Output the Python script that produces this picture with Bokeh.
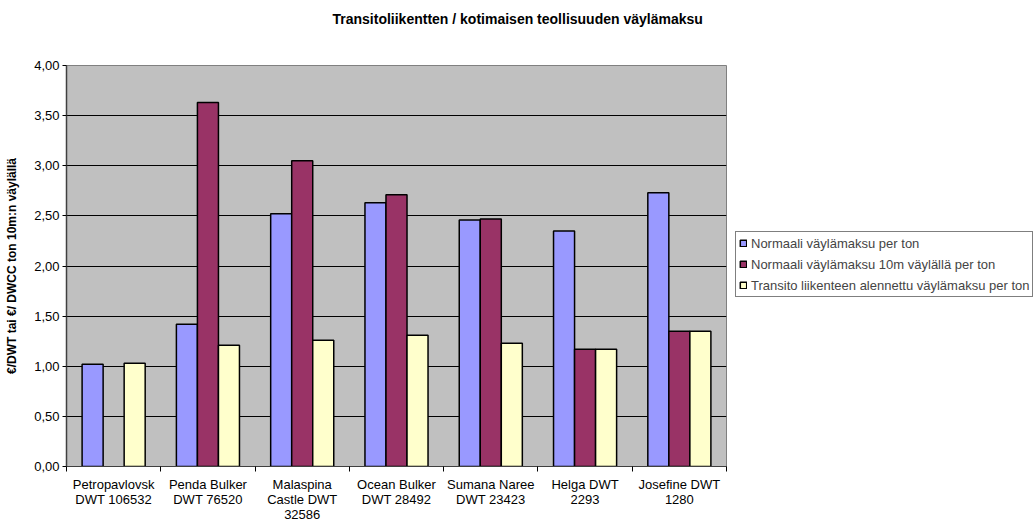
from bokeh.plotting import figure
from bokeh.models import (ColumnDataSource, Range1d, FixedTicker, Legend, LegendItem, Title)
from bokeh.embed import file_html
from bokeh.resources import INLINE

# ---- data ----
categories = [
    "Petropavlovsk\nDWT 106532",
    "Penda Bulker\nDWT 76520",
    "Malaspina\nCastle DWT\n32586",
    "Ocean Bulker\nDWT 28492",
    "Sumana Naree\nDWT 23423",
    "Helga DWT\n2293",
    "Josefine DWT\n1280",
]
series_names = [
    "Normaali väylämaksu per ton",
    "Normaali väylämaksu 10m väylällä per ton",
    "Transito liikenteen alennettu väylämaksu per ton",
]
normaali = [1.02, 1.42, 2.52, 2.63, 2.46, 2.35, 2.73]
normaali_10m = [float("nan"), 3.63, 3.05, 2.71, 2.47, 1.17, 1.35]
transito = [1.03, 1.21, 1.26, 1.31, 1.23, 1.17, 1.35]
y_ticks = [0.0, 0.5, 1.0, 1.5, 2.0, 2.5, 3.0, 3.5, 4.0]

title_text = "Transitoliikentten / kotimaisen teollisuuden väylämaksu"
y_label = "€/DWT tai €/ DWCC ton 10m:n väylällä"

colors = ["#9999FF", "#993366", "#FFFFCC"]
FONT = "Liberation Sans"

n = len(categories)
centers = [i + 0.5 for i in range(n)]
bw = 0.223
offsets = [-bw, 0.0, bw]

p = figure(width=1035, height=522, frame_width=660, frame_height=401,
           output_backend="svg", toolbar_location=None,
           x_range=Range1d(0, n), y_range=Range1d(0, 4.0),
           min_border_left=66, min_border_right=309, min_border_top=65, min_border_bottom=56)
p.border_fill_color = "white"
p.background_fill_color = "#C0C0C0"
p.outline_line_color = "#808080"

all_series = [normaali, normaali_10m, transito]
renderers = []
for vals, off, col in zip(all_series, offsets, colors):
    src = ColumnDataSource(dict(x=[c + off for c in centers], top=vals))
    r = p.vbar(x="x", top="top", bottom=0, width=bw, source=src, fill_color=col,
               line_color="black", line_width=1.5)
    renderers.append(r)

# grid
p.xgrid.grid_line_color = None
p.ygrid.ticker = FixedTicker(ticks=y_ticks)
p.ygrid.grid_line_color = "black"
p.ygrid.grid_line_width = 1

# y axis
ya = p.yaxis[0]
ya.ticker = FixedTicker(ticks=y_ticks)
ya.major_label_overrides = {t: f"{t:.2f}".replace(".", ",") for t in y_ticks}
ya.major_label_text_font = FONT
ya.major_label_text_font_size = "13px"
ya.major_label_text_color = "black"
ya.axis_line_color = "#404040"
ya.axis_line_width = 1.5
ya.major_tick_line_color = "black"
ya.major_tick_out = 4
ya.major_tick_in = 0
ya.minor_tick_line_color = None
ya.axis_label = y_label
ya.axis_label_text_font = FONT
ya.axis_label_text_font_size = "12px"
ya.axis_label_text_font_style = "bold"
ya.axis_label_text_color = "black"
ya.axis_label_standoff = 12
ya.major_label_standoff = 3

# x axis
xa = p.xaxis[0]
xa.ticker = FixedTicker(ticks=centers, minor_ticks=list(range(n + 1)))
xa.major_label_overrides = {c: lab for c, lab in zip(centers, categories)}
xa.major_label_text_font = FONT
xa.major_label_text_font_size = "13px"
xa.major_label_text_color = "black"
xa.major_label_text_line_height = 1.0
xa.major_tick_line_color = None
xa.minor_tick_line_color = "black"
xa.minor_tick_out = 5
xa.minor_tick_in = 0
xa.axis_line_color = "#404040"
xa.axis_line_width = 1
xa.major_label_standoff = 4
xa.axis_label = None

# spacer between frame and title (added first => closest to the frame)
spacer = Title(text=" ", standoff=16, text_font=FONT, text_font_size="14px",
               text_color="white")
p.add_layout(spacer, "above")

# title
t = Title(text=title_text, align="left", offset=266, text_font=FONT,
          standoff=10,
          text_font_size="14px", text_font_style="bold", text_color="black")
p.add_layout(t, "above")

# legend
items = [LegendItem(label=nm, renderers=[r]) for nm, r in zip(series_names, renderers)]
legend = Legend(items=items, location=(9, 169), orientation="vertical",
                label_text_font=FONT, label_text_font_size="13px",
                glyph_width=8, glyph_height=8, spacing=5, padding=3, margin=0,
                label_standoff=4, label_height=16,
                border_line_color="black", border_line_width=1,
                background_fill_color="white", background_fill_alpha=1.0)
p.add_layout(legend, "right")

open("out.html", "w").write(file_html(p, INLINE))
